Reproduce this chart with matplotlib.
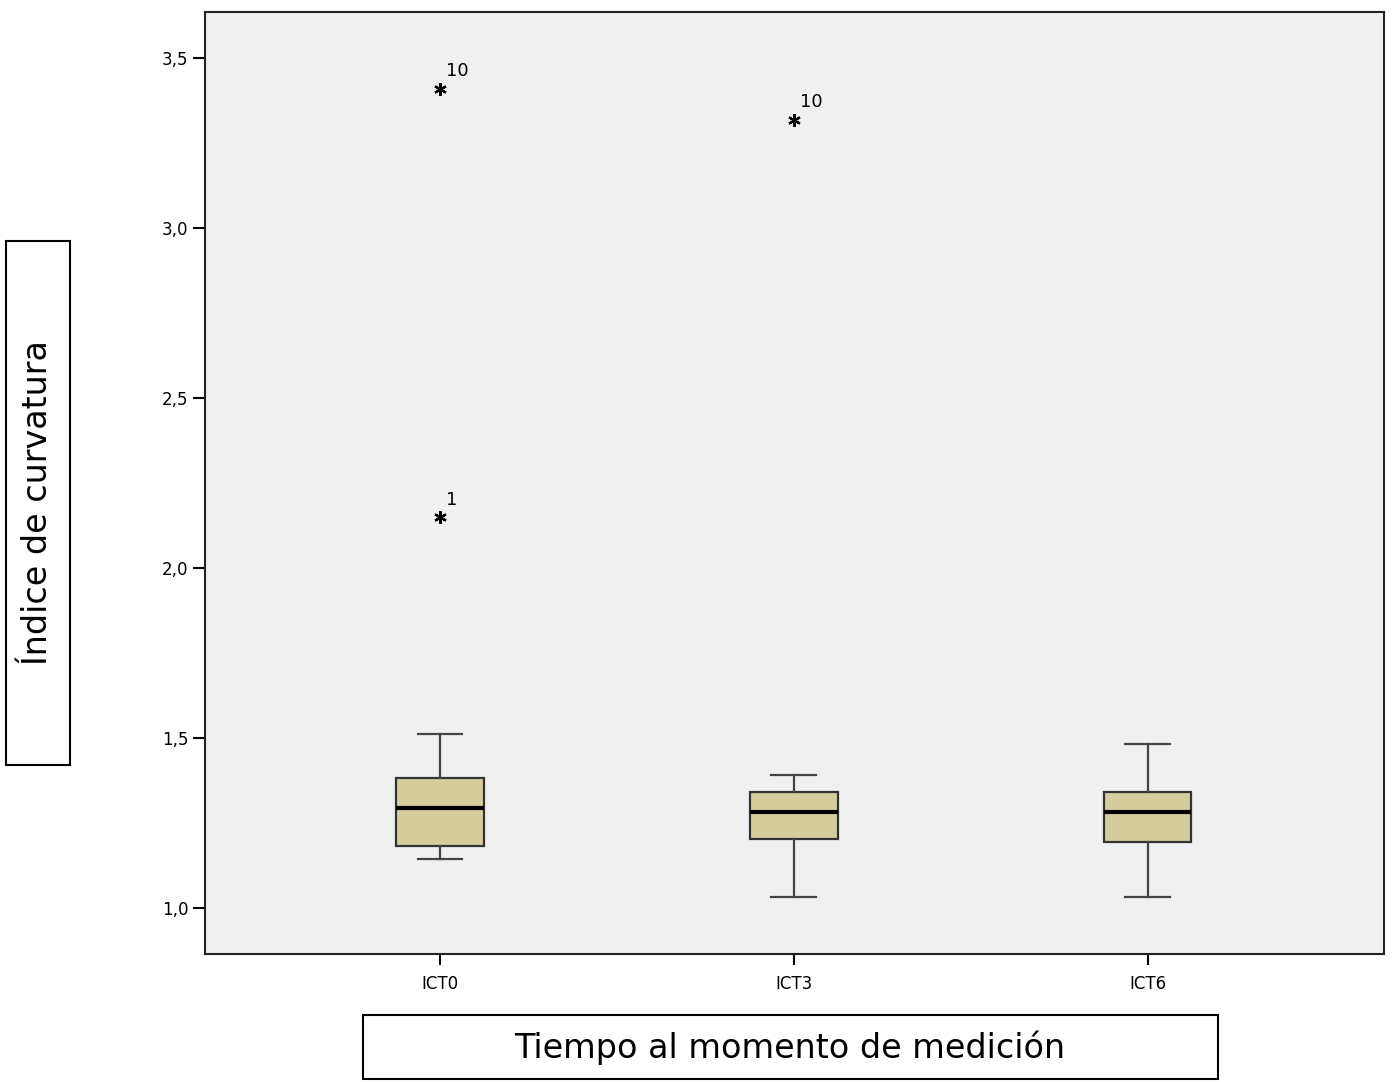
import matplotlib
matplotlib.use("Agg")
import matplotlib.pyplot as plt
from matplotlib.patches import Rectangle


# -------------------------------------------------
# DATA
# -------------------------------------------------

groups = ["ICT0", "ICT3", "ICT6"]

whisker_low = [1.144, 1.032, 1.032]
q1 = [1.182, 1.203, 1.194]
median = [1.294, 1.282, 1.282]
q3 = [1.382, 1.341, 1.341]
whisker_high = [1.512, 1.391, 1.482]

outlier_group = [0, 0, 1]
outlier_value = [3.41, 2.15, 3.318]
outlier_label = ["10", "1", "10"]

y_ticks = [1.0, 1.5, 2.0, 2.5, 3.0, 3.5]
y_tick_labels = ["1,0", "1,5", "2,0", "2,5", "3,0", "3,5"]


# -------------------------------------------------
# FIGURE
# -------------------------------------------------

fig = plt.figure(figsize=(13.94, 10.82), dpi=100)
W, H = 1394, 1082

ax = fig.add_axes([205 / W, 1 - 954 / H, (1384 - 205) / W, (954 - 12) / H])
ax.set_facecolor("#f0f0f0")

positions = [1, 2, 3]

stats = []
for i in range(len(groups)):
    stats.append({
        "whislo": whisker_low[i],
        "q1": q1[i],
        "med": median[i],
        "q3": q3[i],
        "whishi": whisker_high[i],
        "fliers": [],
        "label": groups[i],
    })

ax.bxp(
    stats,
    positions=positions,
    widths=0.246,
    patch_artist=True,
    showfliers=False,
    boxprops=dict(facecolor="#d6cd9f", edgecolor="#333333", linewidth=1.6),
    medianprops=dict(color="black", linewidth=3),
    whiskerprops=dict(color="#444444", linewidth=1.6),
    capprops=dict(color="#444444", linewidth=1.6),
    capwidths=0.127,
)

# extreme values (asterisks with case number)
for g, v, lab in zip(outlier_group, outlier_value, outlier_label):
    x = positions[g]
    ax.plot(x, v, marker=(6, 2, 0), color="black", markersize=9,
            markeredgewidth=1.6, linestyle="none")
    ax.text(x + 0.018, v + 0.025, lab, fontsize=13, ha="left", va="bottom")

ax.set_xlim(0.336, 3.667)
ax.set_ylim(0.865, 3.635)

ax.set_yticks(y_ticks)
ax.set_yticklabels(y_tick_labels, fontsize=12)
ax.set_xticks(positions)
ax.set_xticklabels(groups, fontsize=12)

ax.tick_params(axis="y", direction="out", length=9, width=1.5, pad=3)
ax.tick_params(axis="x", direction="out", length=8, width=1.5, pad=7)

for spine in ax.spines.values():
    spine.set_linewidth(1.5)
    spine.set_color("#222222")


# -------------------------------------------------
# AXIS LABELS IN FRAMED BOXES
# -------------------------------------------------

# y label box
fig.patches.append(Rectangle(
    (6 / W, 1 - 765 / H), (70 - 6) / W, (765 - 241) / H,
    transform=fig.transFigure, fill=False, edgecolor="black", linewidth=1.5
))
fig.text(38 / W, 1 - 503 / H, "Índice de curvatura",
         rotation=90, ha="center", va="center", fontsize=24)

# x label box
fig.patches.append(Rectangle(
    (363 / W, 1 - 1079 / H), (1218 - 363) / W, (1079 - 1015) / H,
    transform=fig.transFigure, fill=False, edgecolor="black", linewidth=1.5
))
fig.text(790 / W, 1 - 1048 / H, "Tiempo al momento de medición",
         ha="center", va="center", fontsize=24)

plt.savefig("out.png", dpi=100)
plt.close()
